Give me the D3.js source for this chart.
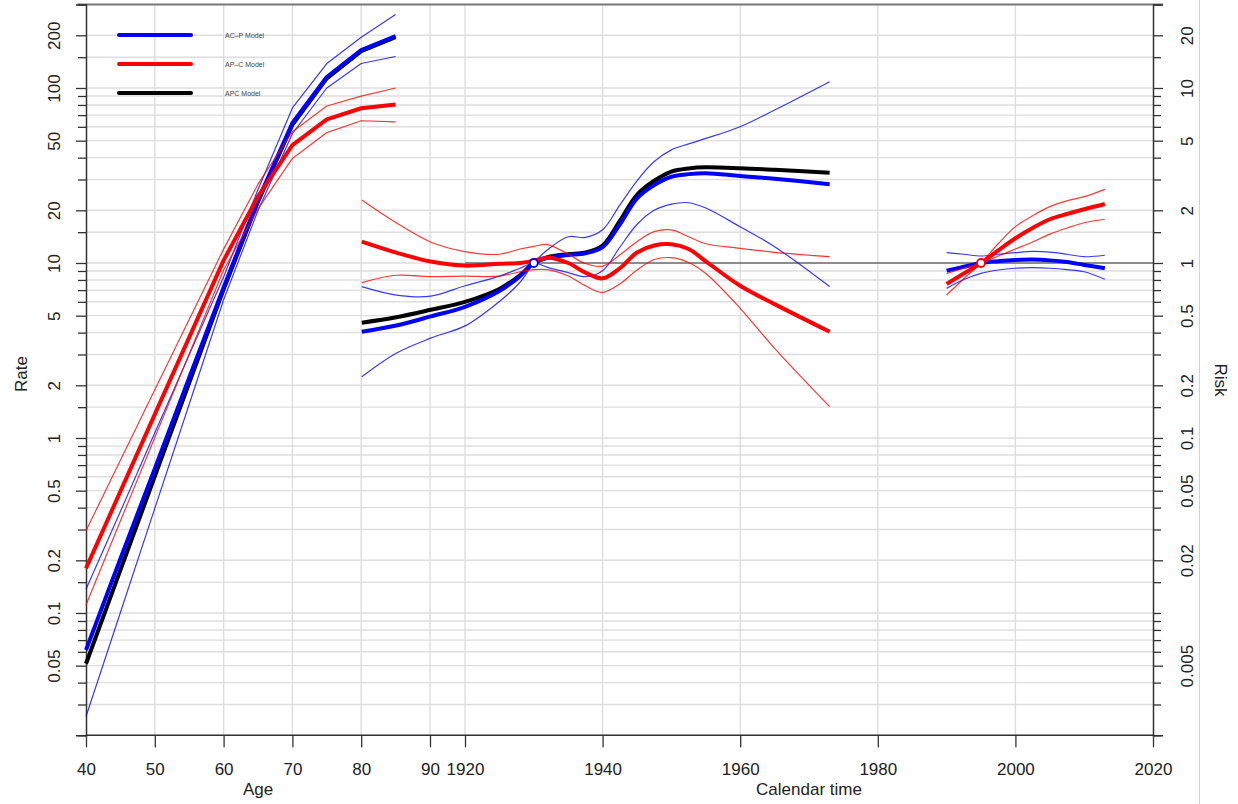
<!DOCTYPE html>
<html>
<head>
<meta charset="utf-8">
<script src="https://cdn.jsdelivr.net/npm/d3@7"></script>
<style>
  html, body { margin: 0; padding: 0; background: #fff; }
  svg { display: block; font-family: "Liberation Sans", Arial, Helvetica, sans-serif; }
</style>
</head>
<body>
<svg id="chart" width="1238" height="804"></svg>
<script>
// ---------- Age effects (rates per 100,000) ----------
const ages = [40, 45, 50, 55, 60, 65, 70, 75, 80, 85];
const ageACP     = [0.0615, 0.204, 0.668, 2.21, 7.24, 22.9, 63.1, 115.6, 164.8, 198.2];
const ageACPLo   = [0.0256, 0.1007, 0.396, 1.56, 6.17, 19.95, 54.95, 100, 138, 151.4];
const ageACPHi   = [0.1365, 0.380, 1.072, 2.985, 8.32, 26.3, 76.9, 138, 195, 263];
const ageAPC_C   = [0.180, 0.495, 1.365, 3.76, 10.35, 24.0, 47.2, 66.2, 76.6, 80.4];
const ageAPC_CLo = [0.111, 0.335, 1.007, 3.02, 9.12, 20.4, 39.6, 55.6, 65.0, 64.0];
const ageAPC_CHi = [0.295, 0.746, 1.884, 4.76, 12.0, 28.2, 56.2, 78.9, 89.9, 100];
const ageAPC     = [0.0513, 0.176, 0.603, 2.07, 7.08, 22.4, 61.7, 113.5, 162.2, 195];

// ---------- Cohort effects (relative risk, reference 1930) ----------
const cohorts = [1905, 1910, 1915, 1920, 1925, 1928, 1930, 1932, 1935, 1937.5, 1940, 1942.5, 1945, 1947.5, 1950, 1952.5, 1955, 1960, 1965, 1973];
const cohACP      = [0.405, 0.439, 0.495, 0.562, 0.692, 0.841, 1, 1.072, 1.109, 1.135, 1.23, 1.66, 2.34, 2.79, 3.11, 3.22, 3.26, 3.14, 3.03, 2.82];
const cohACPBand1 = [0.224, 0.305, 0.372, 0.437, 0.603, 0.776, 1, 1.189, 1.413, 1.40, 1.549, 2.14, 2.95, 3.80, 4.43, 4.79, 5.15, 6.01, 7.48, 10.86];
const cohACPBand2 = [0.733, 0.656, 0.646, 0.741, 0.841, 0.933, 1, 0.944, 0.881, 0.836, 0.902, 1.23, 1.66, 2.0, 2.17, 2.21, 2.06, 1.61, 1.24, 0.733];
const cohAPC_C    = [1.324, 1.146, 1.019, 0.966, 0.989, 1.0, 1.028, 1.072, 1.0, 0.881, 0.817, 0.933, 1.148, 1.259, 1.279, 1.202, 1.023, 0.741, 0.582, 0.405];
const cohAPC_CHi  = [2.29, 1.698, 1.318, 1.161, 1.122, 1.202, 1.245, 1.274, 1.122, 0.993, 0.959, 1.112, 1.324, 1.510, 1.545, 1.413, 1.288, 1.213, 1.151, 1.086];
const cohAPC_CLo  = [0.773, 0.851, 0.836, 0.841, 0.841, 0.891, 0.916, 0.916, 0.843, 0.741, 0.679, 0.759, 0.912, 1.047, 1.072, 1.007, 0.871, 0.551, 0.325, 0.151];
const cohAPC      = [0.456, 0.490, 0.540, 0.600, 0.711, 0.851, 1, 1.079, 1.122, 1.148, 1.259, 1.738, 2.455, 2.95, 3.33, 3.47, 3.52, 3.48, 3.41, 3.28];

// ---------- Period effects (relative risk, reference 1995) ----------
const periods = [1990, 1992.5, 1995, 1997.5, 2000, 2002.5, 2005, 2007.5, 2010, 2013];
const perACP       = [0.904, 0.951, 1, 1.023, 1.040, 1.047, 1.035, 1.012, 0.975, 0.933];
const perACPHi     = [1.146, 1.122, 1.096, 1.122, 1.146, 1.164, 1.153, 1.122, 1.086, 1.107];
const perACPLo     = [0.716, 0.804, 0.873, 0.912, 0.933, 0.940, 0.933, 0.916, 0.891, 0.807];
const perAPC_C     = [0.759, 0.871, 1, 1.180, 1.384, 1.585, 1.778, 1.905, 2.028, 2.173];
const perAPC_CBand1 = [0.656, 0.813, 1, 1.288, 1.614, 1.862, 2.099, 2.265, 2.393, 2.636];
const perAPC_CBand2 = [0.871, 0.933, 1, 1.096, 1.202, 1.318, 1.462, 1.585, 1.698, 1.778];

// ---------- Axes ----------
const ageTicks = [40, 50, 60, 70, 80, 90];
const calTicks = [1920, 1940, 1960, 1980, 2000, 2020];
const tickMultipliers = [1, 1.5, 2, 3, 4, 5, 6, 7, 8, 9];
const rateLabels = [0.05, 0.1, 0.2, 0.5, 1, 2, 5, 10, 20, 50, 100, 200];
const riskLabels = [0.005, 0.02, 0.05, 0.1, 0.2, 0.5, 1, 2, 5, 10, 20];
const cohortRef = 1930, periodRef = 1995;

const legendItems = [
  { label: "AC\u2013P Model", color: "#0000ff" },
  { label: "AP\u2013C Model", color: "#ff0000" },
  { label: "APC Model",       color: "#000000" }
];

// ---------- Scales ----------
const X0 = 86, X1 = 1153, YTOP = 4.5, YBOT = 735.3;
const xAge = d3.scaleLinear().domain([40, 90]).range([X0, 430]);
const xCal = d3.scaleLinear().domain([1920, 2020]).range([465, X1]);
const yRate = d3.scaleLog().domain([0.02, 300]).range([YBOT, YTOP]);
const yRisk = d3.scaleLog().domain([0.002, 30]).range([YBOT, YTOP]);

const svg = d3.select("#chart");

// log tick positions (1, 1.5, 2, 3 ... 9 per decade)
function logTicks(lo, hi) {
  const out = [];
  for (let k = -4; k <= 3; k++) {
    tickMultipliers.forEach(m => {
      const v = +(m * Math.pow(10, k)).toPrecision(3);
      if (v >= lo * 0.999 && v <= hi * 1.001) out.push(v);
    });
  }
  return out;
}
const rateTicks = logTicks(0.02, 300);
const riskTicks = logTicks(0.002, 30);
const isIn = (arr, v) => arr.some(a => Math.abs(a - v) / a < 1e-6);

// ---------- Grid ----------
const grid = svg.append("g").attr("stroke", "#dedede").attr("stroke-width", 1.4);
grid.selectAll("line.h").data(rateTicks).join("line")
  .attr("x1", X0).attr("x2", X1)
  .attr("y1", d => yRate(d)).attr("y2", d => yRate(d));
grid.selectAll("line.va").data(ageTicks.slice(1)).join("line")
  .attr("x1", d => xAge(d)).attr("x2", d => xAge(d))
  .attr("y1", YTOP).attr("y2", YBOT);
svg.append("g").attr("stroke", "#dedede").attr("stroke-width", 1.4)
  .selectAll("line").data(calTicks.slice(0, -1)).join("line")
  .attr("x1", d => xCal(d)).attr("x2", d => xCal(d))
  .attr("y1", YTOP).attr("y2", YBOT);

// top frame line
svg.append("line")
  .attr("x1", X0 - 9).attr("x2", X1 + 10)
  .attr("y1", yRate(300)).attr("y2", yRate(300))
  .attr("stroke", "#7a7a7a").attr("stroke-width", 2);

// ---------- Left (Rate) axis ----------
const fmt = d => String(d);
const leftAxis = svg.append("g").attr("transform", `translate(${X0},0)`)
  .call(d3.axisLeft(yRate).tickValues(rateTicks).tickSize(10)
    .tickFormat(d => isIn(rateLabels, d) ? fmt(d) : ""));
leftAxis.select(".domain").attr("stroke", "#333").attr("stroke-width", 1.5);
leftAxis.selectAll(".tick line").attr("stroke", "#333").attr("stroke-width", 1.3)
  .attr("x2", d => isIn(rateLabels, d) ? -10 : -8);
leftAxis.selectAll(".tick text")
  .attr("x", null).attr("dy", null)
  .attr("transform", "translate(-26,0) rotate(-90)")
  .attr("text-anchor", "middle")
  .attr("font-size", 17).attr("fill", "#222")
  .attr("font-family", "Liberation Sans, Arial, sans-serif");

// ---------- Right (Risk) axis ----------
const rightAxis = svg.append("g").attr("transform", `translate(${X1},0)`)
  .call(d3.axisRight(yRisk).tickValues(riskTicks).tickSize(10)
    .tickFormat(d => isIn(riskLabels, d) ? fmt(d) : ""));
rightAxis.select(".domain").attr("stroke", "#333").attr("stroke-width", 1.5);
rightAxis.selectAll(".tick line").attr("stroke", "#333").attr("stroke-width", 1.3)
  .attr("x2", d => isIn(riskLabels, d) ? 10 : 8);
rightAxis.selectAll(".tick text")
  .attr("x", null).attr("dy", null)
  .attr("transform", "translate(40,0) rotate(-90)")
  .attr("text-anchor", "middle")
  .attr("font-size", 17).attr("fill", "#222")
  .attr("font-family", "Liberation Sans, Arial, sans-serif");

// ---------- Bottom axes ----------
svg.append("line").attr("x1", X0).attr("x2", X1).attr("y1", YBOT).attr("y2", YBOT)
  .attr("stroke", "#333").attr("stroke-width", 1.5);
function styleBottom(g) {
  g.select(".domain").remove();
  g.selectAll(".tick line").attr("stroke", "#333").attr("stroke-width", 1.3);
  g.selectAll(".tick text").attr("y", 40).attr("dy", null)
    .attr("font-size", 17).attr("fill", "#222")
    .attr("font-family", "Liberation Sans, Arial, sans-serif");
}
svg.append("g").attr("transform", `translate(0,${YBOT})`)
  .call(d3.axisBottom(xAge).tickValues(ageTicks).tickSize(12).tickFormat(d3.format("d")))
  .call(styleBottom);
svg.append("g").attr("transform", `translate(0,${YBOT})`)
  .call(d3.axisBottom(xCal).tickValues(calTicks).tickSize(12).tickFormat(d3.format("d")))
  .call(styleBottom);

// ---------- Axis titles ----------
const titleStyle = s => s.attr("font-size", 17).attr("fill", "#222");
svg.append("text").text("Age").attr("x", xAge(65)).attr("y", 795)
  .attr("text-anchor", "middle").call(titleStyle);
svg.append("text").text("Calendar time").attr("x", xCal(1970)).attr("y", 795)
  .attr("text-anchor", "middle").call(titleStyle);
svg.append("text").text("Rate").attr("text-anchor", "middle")
  .attr("transform", "translate(27,374) rotate(-90)").call(titleStyle);
svg.append("text").text("Risk").attr("text-anchor", "middle")
  .attr("transform", "translate(1215,380) rotate(90)").call(titleStyle);

// reference line at RR = 1
svg.append("line")
  .attr("x1", xCal(1920)).attr("x2", X1)
  .attr("y1", yRisk(1)).attr("y2", yRisk(1))
  .attr("stroke", "#333").attr("stroke-width", 1.2);

// page edge
svg.append("line").attr("x1", 1199.5).attr("x2", 1199.5).attr("y1", 0).attr("y2", 804)
  .attr("stroke", "#d2d2d2").attr("stroke-width", 1);

// ---------- Curves ----------
const curves = svg.append("g").attr("fill", "none").attr("stroke-linejoin", "round").attr("stroke-linecap", "butt");
const ageLine = d3.line().x(d => xAge(d[0])).y(d => yRate(d[1])).curve(d3.curveLinear);
const calLine = d3.line().x(d => xCal(d[0])).y(d => yRisk(d[1])).curve(d3.curveCatmullRom.alpha(0.5));
const zipAge = v => ages.map((a, i) => [a, v[i]]);
const zipCoh = v => cohorts.map((c, i) => [c, v[i]]);
const zipPer = v => periods.map((p, i) => [p, v[i]]);

const THIN = 1.2, THICK = 4;
function draw(path, color, w) {
  curves.append("path").attr("d", path).attr("stroke", color).attr("stroke-width", w)
    .attr("stroke-opacity", w === THIN ? 0.78 : 1);
}

// APC model (black)
draw(ageLine(zipAge(ageAPC)), "#000", THICK);
draw(calLine(zipCoh(cohAPC)), "#000", THICK);

// AC-P model (blue)
draw(ageLine(zipAge(ageACPLo)), "#0000ff", THIN);
draw(ageLine(zipAge(ageACPHi)), "#0000ff", THIN);
draw(ageLine(zipAge(ageACP)), "#0000ff", THICK);
draw(calLine(zipCoh(cohACPBand1)), "#0000ff", THIN);
draw(calLine(zipCoh(cohACPBand2)), "#0000ff", THIN);
draw(calLine(zipCoh(cohACP)), "#0000ff", THICK);
draw(calLine(zipPer(perACPLo)), "#0000ff", THIN);
draw(calLine(zipPer(perACPHi)), "#0000ff", THIN);
draw(calLine(zipPer(perACP)), "#0000ff", THICK);

// AP-C model (red)
draw(ageLine(zipAge(ageAPC_CLo)), "#ff0000", THIN);
draw(ageLine(zipAge(ageAPC_CHi)), "#ff0000", THIN);
draw(ageLine(zipAge(ageAPC_C)), "#ff0000", THICK);
draw(calLine(zipCoh(cohAPC_CLo)), "#ff0000", THIN);
draw(calLine(zipCoh(cohAPC_CHi)), "#ff0000", THIN);
draw(calLine(zipCoh(cohAPC_C)), "#ff0000", THICK);
draw(calLine(zipPer(perAPC_CBand1)), "#ff0000", THIN);
draw(calLine(zipPer(perAPC_CBand2)), "#ff0000", THIN);
draw(calLine(zipPer(perAPC_C)), "#ff0000", THICK);

// reference points
svg.append("circle").attr("cx", xCal(cohortRef)).attr("cy", yRisk(1)).attr("r", 4)
  .attr("fill", "#fff").attr("stroke", "#0000ff").attr("stroke-width", 1.8);
svg.append("circle").attr("cx", xCal(periodRef)).attr("cy", yRisk(1)).attr("r", 4)
  .attr("fill", "#fff").attr("stroke", "#ff0000").attr("stroke-width", 1.8);

// ---------- Legend ----------
const legend = svg.append("g");
legendItems.forEach((it, i) => {
  const y = 35 + i * 29;
  legend.append("line").attr("x1", 119).attr("x2", 191).attr("y1", y).attr("y2", y)
    .attr("stroke", it.color).attr("stroke-width", 4).attr("stroke-linecap", "round");
  legend.append("text").text(it.label).attr("x", 225).attr("y", y + 2.5)
    .attr("font-size", 7).attr("fill", "#444");
});
</script>
</body>
</html>
